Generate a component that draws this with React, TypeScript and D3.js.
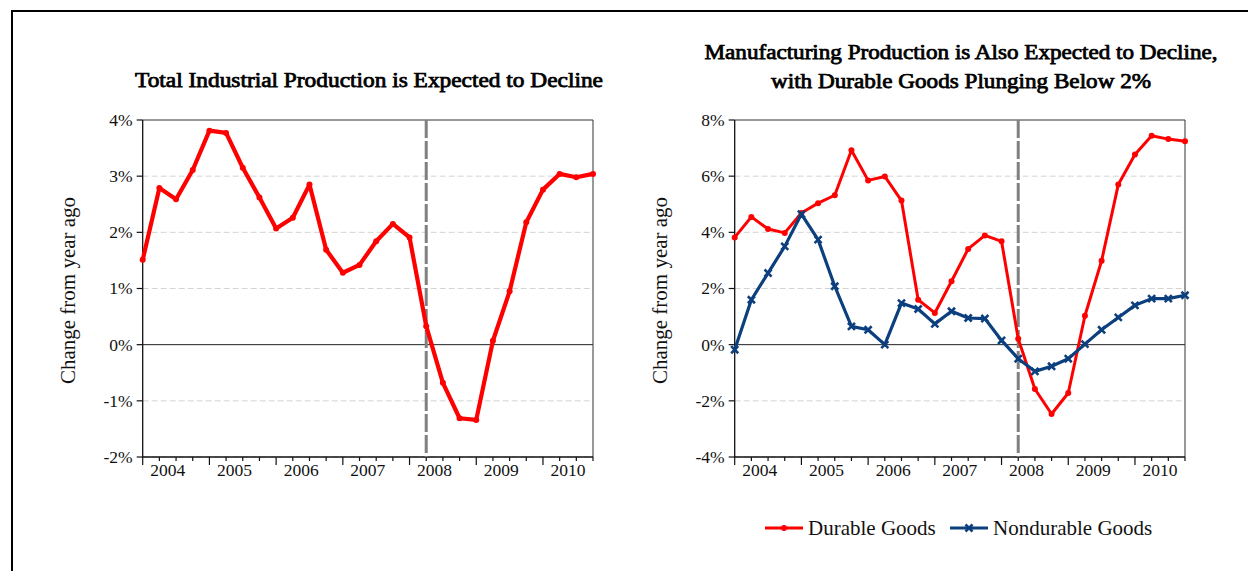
import React from "react";
import * as d3 from "d3";

// Quarterly observations, 2004Q1 – 2010Q4 (year-over-year % change)
const years = ["2004", "2005", "2006", "2007", "2008", "2009", "2010"];
const quarters = years.flatMap((y) => ["Q1", "Q2", "Q3", "Q4"].map((q) => `${y}${q}`));

const totalIndustrial = [
  1.51, 2.79, 2.59, 3.11, 3.81, 3.77, 3.15, 2.62, 2.07, 2.26, 2.85, 1.69, 1.28, 1.42,
  1.84, 2.15, 1.91, 0.33, -0.68, -1.31, -1.34, 0.07, 0.95, 2.18, 2.76, 3.04, 2.98, 3.04,
];
const durableGoods = [
  3.82, 4.55, 4.12, 3.98, 4.69, 5.04, 5.32, 6.92, 5.85, 5.99, 5.13, 1.6, 1.13, 2.26,
  3.41, 3.89, 3.68, 0.21, -1.58, -2.47, -1.72, 1.03, 2.99, 5.7, 6.77, 7.44, 7.32, 7.24,
];
const nondurableGoods = [
  -0.18, 1.6, 2.55, 3.5, 4.65, 3.74, 2.08, 0.65, 0.53, 0.0, 1.48, 1.27, 0.74, 1.19,
  0.95, 0.93, 0.15, -0.5, -0.95, -0.77, -0.5, 0.02, 0.53, 0.97, 1.4, 1.64, 1.64, 1.76,
];

const leftTicks = [-2, -1, 0, 1, 2, 3, 4];
const rightTicks = [-4, -2, 0, 2, 4, 6, 8];
const forecastStart = "2008Q2";

const RED = "#ff0000";
const BLUE = "#0c3f7e";
const FONT = "'Liberation Serif', 'Times New Roman', serif";

type Series = { name: string; values: number[]; color: string; width: number; marker: "dot" | "x" };

function Marker({ kind, x, y, color }: { kind: "dot" | "x"; x: number; y: number; color: string }) {
  if (kind === "dot") return <circle cx={x} cy={y} r={3} fill={color} />;
  const path = d3.symbol(d3.symbolTimes, 34)() as string;
  return <path d={path} transform={`translate(${x},${y})`} fill="none" stroke={color} strokeWidth={2.6} />;
}

function Panel({
  left, right, top, bottom, yTicks, series, titleLines, titleWidths, titleX, titleBaselines, yTitleX,
}: {
  left: number; right: number; top: number; bottom: number; yTicks: number[]; series: Series[];
  titleLines: string[]; titleWidths: number[]; titleX: number; titleBaselines: number[]; yTitleX: number;
}) {
  const x = d3.scaleLinear().domain([0, quarters.length - 1]).range([left, right]);
  const y = d3.scaleLinear().domain([yTicks[0], yTicks[yTicks.length - 1]]).range([bottom, top]);
  const line = d3.line<number>().x((_, i) => x(i)).y((d) => y(d));
  const fx = x(quarters.indexOf(forecastStart));

  return (
    <g>
      {titleLines.map((t, i) => (
        <text key={t} x={titleX} y={titleBaselines[i]} textAnchor="middle" fontFamily={FONT}
          fontSize={20} fill="#000" stroke="#000" strokeWidth={0.75}
          textLength={titleWidths[i]} lengthAdjust="spacingAndGlyphs">
          {t}
        </text>
      ))}
      {/* gridlines */}
      {yTicks.slice(0, -1).filter((t) => t !== 0).map((t) => (
        <line key={t} x1={left} x2={right} y1={y(t)} y2={y(t)} stroke="#d4d4d4" strokeWidth={1}
          strokeDasharray="6,3" />
      ))}
      <line x1={left} x2={right} y1={y(0)} y2={y(0)} stroke="#222" strokeWidth={1} />
      {/* frame */}
      <path d={`M${left},${top}H${right}V${bottom}`} fill="none" stroke="#333" strokeWidth={1} />
      <path d={`M${left},${top}V${bottom}H${right}`} fill="none" stroke="#111" strokeWidth={1.3} />
      {/* y ticks */}
      {yTicks.map((t) => (
        <g key={t}>
          <line x1={left - 6} x2={left} y1={y(t)} y2={y(t)} stroke="#111" strokeWidth={1.2} />
          <text x={left - 10} y={y(t)} dy="0.34em" textAnchor="end" fontFamily={FONT} fontSize={17.5}
            fill="#111">
            {`${t}%`}
          </text>
        </g>
      ))}
      {/* x ticks */}
      {quarters.map((q, i) => (
        <line key={q} x1={x(i)} x2={x(i)} y1={bottom} y2={bottom + (q.endsWith("Q1") ? 8 : 4)}
          stroke="#111" strokeWidth={1.2} />
      ))}
      {years.map((yr) => (
        <text key={yr} x={x(quarters.indexOf(`${yr}Q1`) + 1.5)} y={bottom + 19} textAnchor="middle"
          fontFamily={FONT} fontSize={17.5} fill="#111">
          {yr}
        </text>
      ))}
      <text transform={`translate(${yTitleX},${(top + bottom) / 2 + 2}) rotate(-90)`} textAnchor="middle"
        fontFamily={FONT} fontSize={21} fill="#111">
        Change from year ago
      </text>
      {/* forecast marker */}
      <line x1={fx} x2={fx} y1={top} y2={bottom} stroke="#808080" strokeWidth={3} strokeDasharray="18,3" />
      {series.map((s) => (
        <g key={s.name}>
          <path d={line(s.values) as string} fill="none" stroke={s.color} strokeWidth={s.width}
            strokeLinejoin="round" />
          {s.values.map((v, i) => (
            <Marker key={i} kind={s.marker} x={x(i)} y={y(v)} color={s.color} />
          ))}
        </g>
      ))}
    </g>
  );
}

export default function App() {
  const rightSeries: Series[] = [
    { name: "Durable Goods", values: durableGoods, color: RED, width: 3, marker: "dot" },
    { name: "Nondurable Goods", values: nondurableGoods, color: BLUE, width: 3.2, marker: "x" },
  ];
  const legend = [
    { s: rightSeries[0], x: 765 },
    { s: rightSeries[1], x: 950 },
  ];
  return (
    <svg width={1248} height={571} style={{ position: "absolute", left: 0, top: 0, background: "#fff" }}>
      <rect width={1248} height={571} fill="#fff" />
      <path d="M12,571V11H1248" fill="none" stroke="#000" strokeWidth={2} />
      <Panel left={142.7} right={593} top={120} bottom={457} yTicks={leftTicks}
        series={[{ name: "Total", values: totalIndustrial, color: RED, width: 4.2, marker: "dot" }]}
        titleLines={["Total Industrial Production is Expected to Decline"]} titleWidths={[468]}
        titleX={369} titleBaselines={[87]} yTitleX={75} />
      <Panel left={734.7} right={1185} top={120} bottom={457} yTicks={rightTicks} series={rightSeries}
        titleLines={["Manufacturing Production is Also Expected to Decline,", "with Durable Goods Plunging Below 2%"]}
        titleWidths={[513, 380]} titleX={961} titleBaselines={[59, 88]} yTitleX={667} />
      {legend.map(({ s, x }) => (
        <g key={s.name}>
          <line x1={x} x2={x + 38} y1={528} y2={528} stroke={s.color} strokeWidth={3.2} />
          <Marker kind={s.marker} x={x + 19} y={528} color={s.color} />
          <text x={x + 43} y={528} dy="0.34em" fontFamily={FONT} fontSize={21} fill="#111">
            {s.name}
          </text>
        </g>
      ))}
    </svg>
  );
}
